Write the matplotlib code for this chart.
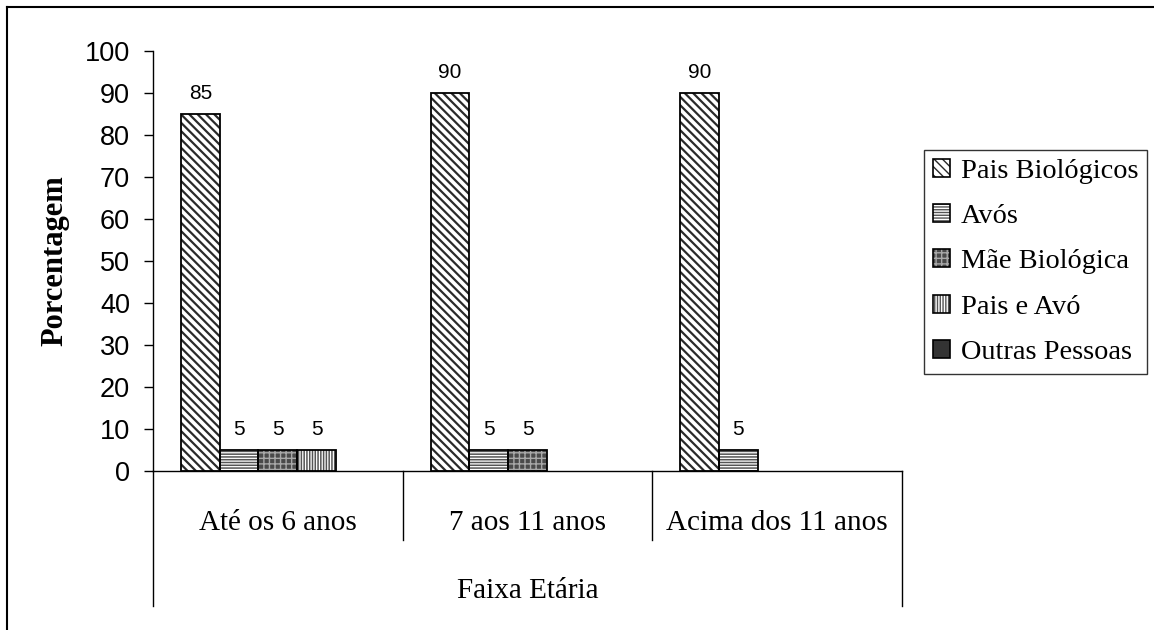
import matplotlib
matplotlib.use("Agg")
import matplotlib.pyplot as plt
import matplotlib.transforms as mtransforms
from matplotlib.patches import Patch
from matplotlib.lines import Line2D
import numpy as np

categories = ["Até os 6 anos", "7 aos 11 anos", "Acima dos 11 anos"]
series_names = ["Pais Biológicos", "Avós", "Mãe Biológica", "Pais e Avó", "Outras Pessoas"]
pais_biologicos = [85, 90, 90]
avos = [5, 5, 5]
mae_biologica = [5, 5, 0]
pais_e_avo = [5, 0, 0]
outras_pessoas = [0, 0, 0]
yticks = list(range(0, 101, 10))

series_values = [pais_biologicos, avos, mae_biologica, pais_e_avo, outras_pessoas]
styles = [
    dict(facecolor="white", hatch="\\\\\\\\", hatchcolor="#2a2a2a", hlw=1.6),
    dict(facecolor="white", hatch="------", hatchcolor="#555555", hlw=1.1),
    dict(facecolor="#4a4a4a", hatch="+++", hatchcolor="#a8a8a8", hlw=1.0),
    dict(facecolor="white", hatch="||||||", hatchcolor="#555555", hlw=1.1),
    dict(facecolor="#333333", hatch=None, hatchcolor="#333333", hlw=1.0),
]

SANS = ["Liberation Sans", "DejaVu Sans"]
SERIF = ["Liberation Serif", "DejaVu Serif"]

fig = plt.figure(figsize=(11.54, 6.30), dpi=100)
ax = fig.add_axes([153/1154, 159/630, 749/1154, 420/630])

x = np.arange(len(categories))
w = 0.155
for i, (vals, st) in enumerate(zip(series_values, styles)):
    pos = x + (i - 2) * w
    keep = [j for j, v in enumerate(vals) if v > 0]
    if not keep:
        continue
    p = [pos[j] for j in keep]
    v = [vals[j] for j in keep]
    with plt.rc_context({"hatch.linewidth": st["hlw"]}):
        ax.bar(p, v, w, color=st["facecolor"], edgecolor=st["hatchcolor"],
               hatch=st["hatch"], linewidth=0, zorder=2)
    bars = ax.bar(p, v, w, fill=False, edgecolor="black", linewidth=1.3, zorder=3)
    for b, val in zip(bars, v):
        ax.annotate(str(val), (b.get_x() + b.get_width()/2, val), xytext=(0, 8),
                    textcoords="offset points", ha="center", va="bottom",
                    fontsize=15, family=SANS)

ax.set_xlim(-0.5, 2.5)
ax.set_ylim(0, 100)
ax.set_yticks(yticks)
ax.set_yticklabels([str(t) for t in yticks], fontsize=19.5, family=SANS)
ax.tick_params(axis="y", direction="out", length=6.5, width=1, pad=10)
ax.set_xticks([])
for s in ["top", "right"]:
    ax.spines[s].set_visible(False)
ax.spines["left"].set_linewidth(1)
ax.spines["bottom"].set_linewidth(1)

ax.set_ylabel("Porcentagem", fontsize=22, fontweight="bold", family=SERIF)
ax.yaxis.set_label_coords(-0.112, 0.5)

trans = mtransforms.blended_transform_factory(ax.transData, ax.transAxes)
for xd, ybot in [(-0.5, -0.321), (0.5, -0.164), (1.5, -0.164), (2.5, -0.321)]:
    ax.add_line(Line2D([xd, xd], [0, ybot], transform=trans, color="black",
                       linewidth=1, clip_on=False))
for xi, c in zip(x, categories):
    ax.text(xi, -0.124, c, transform=trans, ha="center", va="center",
            fontsize=21, family=SERIF)
ax.text(1.0, -0.286, "Faixa Etária", transform=trans, ha="center", va="center",
        fontsize=21, family=SERIF)

handles = []
for st in styles:
    with plt.rc_context({"hatch.linewidth": st["hlw"]}):
        h = Patch(facecolor=st["facecolor"], edgecolor=st["hatchcolor"], hatch=st["hatch"],
                  linewidth=0)
    handles.append((h, Patch(fill=False, edgecolor="black", linewidth=1.2)))
leg = fig.legend(handles, series_names, loc="upper left",
                 bbox_to_anchor=(924/1154, 1 - 150/630), borderaxespad=0,
                 prop={"family": SERIF, "size": 20.4}, frameon=True, fancybox=False,
                 edgecolor="black", handlelength=0.6, handleheight=0.6,
                 handletextpad=0.4, labelspacing=0.72, borderpad=0.3)
leg.get_frame().set_linewidth(1)

# outer frame
fig.add_artist(Line2D([7/1154, 1.0], [1 - 7/630, 1 - 7/630], transform=fig.transFigure,
                      color="black", linewidth=1.5))
fig.add_artist(Line2D([7/1154, 7/1154], [0, 1 - 7/630], transform=fig.transFigure,
                      color="black", linewidth=1.5))

fig.savefig("out.png", dpi=100)
